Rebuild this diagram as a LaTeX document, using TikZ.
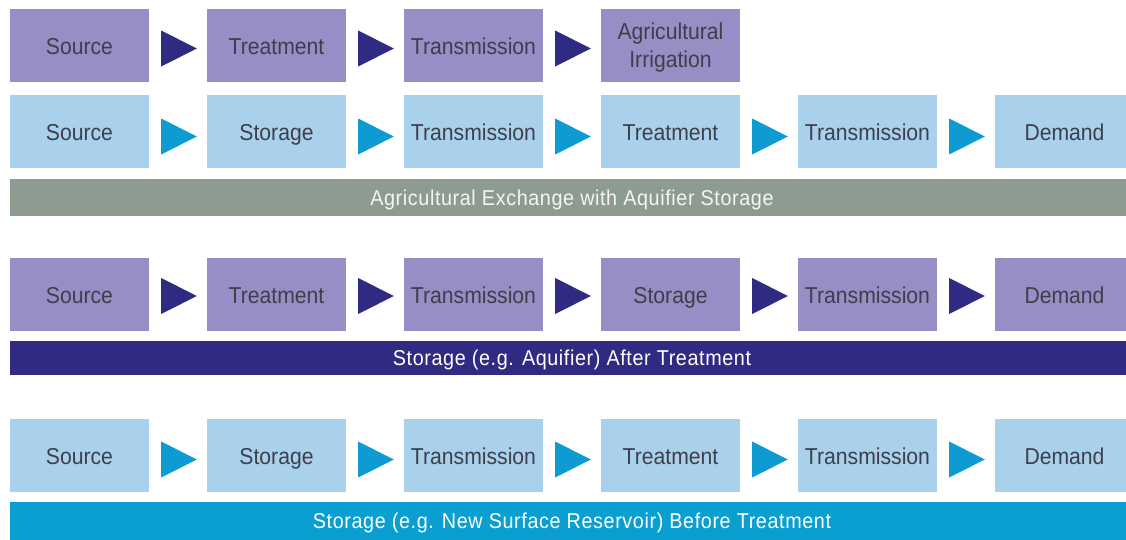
\documentclass[tikz,border=0pt]{standalone}
\usepackage{fontspec}
\setmainfont{Liberation Sans}
\newfontfamily\stagefont{Liberation Sans}[FakeStretch=0.92]
\newfontfamily\barfont{Liberation Sans}[FakeStretch=0.92, LetterSpace=2.8]
\usepackage{xcolor}
\usepackage{tikz}
\usetikzlibrary{calc,positioning}

\definecolor{boxpurple}{HTML}{968EC4}
\definecolor{tippurple}{HTML}{2F2A82}
\definecolor{boxblue}{HTML}{A9D1EB}
\definecolor{tipblue}{HTML}{0E9BD3}
\definecolor{bargrey}{HTML}{8E9B90}
\definecolor{barpurple}{HTML}{312A83}
\definecolor{barblue}{HTML}{0A9FD0}
\definecolor{boxtext}{HTML}{3E3F4C}

\tikzset{
    stagebox/.style={rectangle, minimum width=139pt, minimum height=73pt, inner sep=0pt,
        font=\stagefont\fontsize{23}{28}\selectfont, text=boxtext, align=center},
    oneline/.style={text height=19pt, text depth=0.5pt},
    purplebox/.style={stagebox, fill=boxpurple},
    bluebox/.style={stagebox, fill=boxblue},
    titlebar/.style={rectangle, minimum width=1124pt, inner sep=0pt,
        text height=15.4pt, text depth=0pt,
        font=\barfont\fontsize{21.5}{24}\selectfont, text=white},
}

\begin{document}
\begin{tikzpicture}[x=1pt,y=-1pt]
            \useasboundingbox (0,0) rectangle (1126,539);
            \clip (0,0) rectangle (1126,539);
            % agricultural exchange with aquifier storage
            \foreach \t [count=\i] in {Source,Treatment,Transmission}
                \node[purplebox, oneline] (ag\i) at ({79.5+197*(\i-1)},45.5) {\t};
            \node[purplebox] (ag4) at (670.5,45.5) {};
            \node[stagebox, minimum height=0pt] (ag4text) at ([yshift=-2pt]ag4.center) {Agricultural\\Irrigation};
            \foreach \i [evaluate=\i as \j using int(\i+1)] in {1,2,3}
                \fill[tippurple] ($(ag\i.east)+(12,-15)$) -- ($(ag\j.west)+(-10,3)$) -- ($(ag\i.east)+(12,21)$) -- cycle;
            \foreach \t [count=\i] in {Source,Storage,Transmission,Treatment,Transmission,Demand}
                \node[bluebox, oneline] (aq\i) at ({79.5+197*(\i-1)},131.5) {\t};
            \foreach \i [evaluate=\i as \j using int(\i+1)] in {1,...,5}
                \fill[tipblue] ($(aq\i.east)+(12,-13)$) -- ($(aq\j.west)+(-10,5)$) -- ($(aq\i.east)+(12,23)$) -- cycle;
            \node[titlebar, fill=bargrey, minimum height=37pt, text=white!90!bargrey] (bar1) at (572,197.5) {Agricultural Exchange with Aquifier Storage};

            % storage after treatment
            \foreach \t [count=\i] in {Source,Treatment,Transmission,Storage,Transmission,Demand}
                \node[purplebox, oneline] (at\i) at ({79.5+197*(\i-1)},294) {\t};
            \foreach \i [evaluate=\i as \j using int(\i+1)] in {1,...,5}
                \fill[tippurple] ($(at\i.east)+(12,-16)$) -- ($(at\j.west)+(-10,2)$) -- ($(at\i.east)+(12,20)$) -- cycle;
            \node[titlebar, fill=barpurple, minimum height=34pt] (bar2) at (572,358) {Storage (e.g. Aquifier) After Treatment};

            % storage before treatment
            \foreach \t [count=\i] in {Source,Storage,Transmission,Treatment,Transmission,Demand}
                \node[bluebox, oneline] (bt\i) at ({79.5+197*(\i-1)},455.5) {\t};
            \foreach \i [evaluate=\i as \j using int(\i+1)] in {1,...,5}
                \fill[tipblue] ($(bt\i.east)+(12,-14)$) -- ($(bt\j.west)+(-10,4)$) -- ($(bt\i.east)+(12,22)$) -- cycle;
            \node[titlebar, fill=barblue, minimum height=38pt] (bar3) at (572,521) {Storage (e.g. New Surface Reservoir) Before Treatment};
        \end{tikzpicture}
\end{document}
